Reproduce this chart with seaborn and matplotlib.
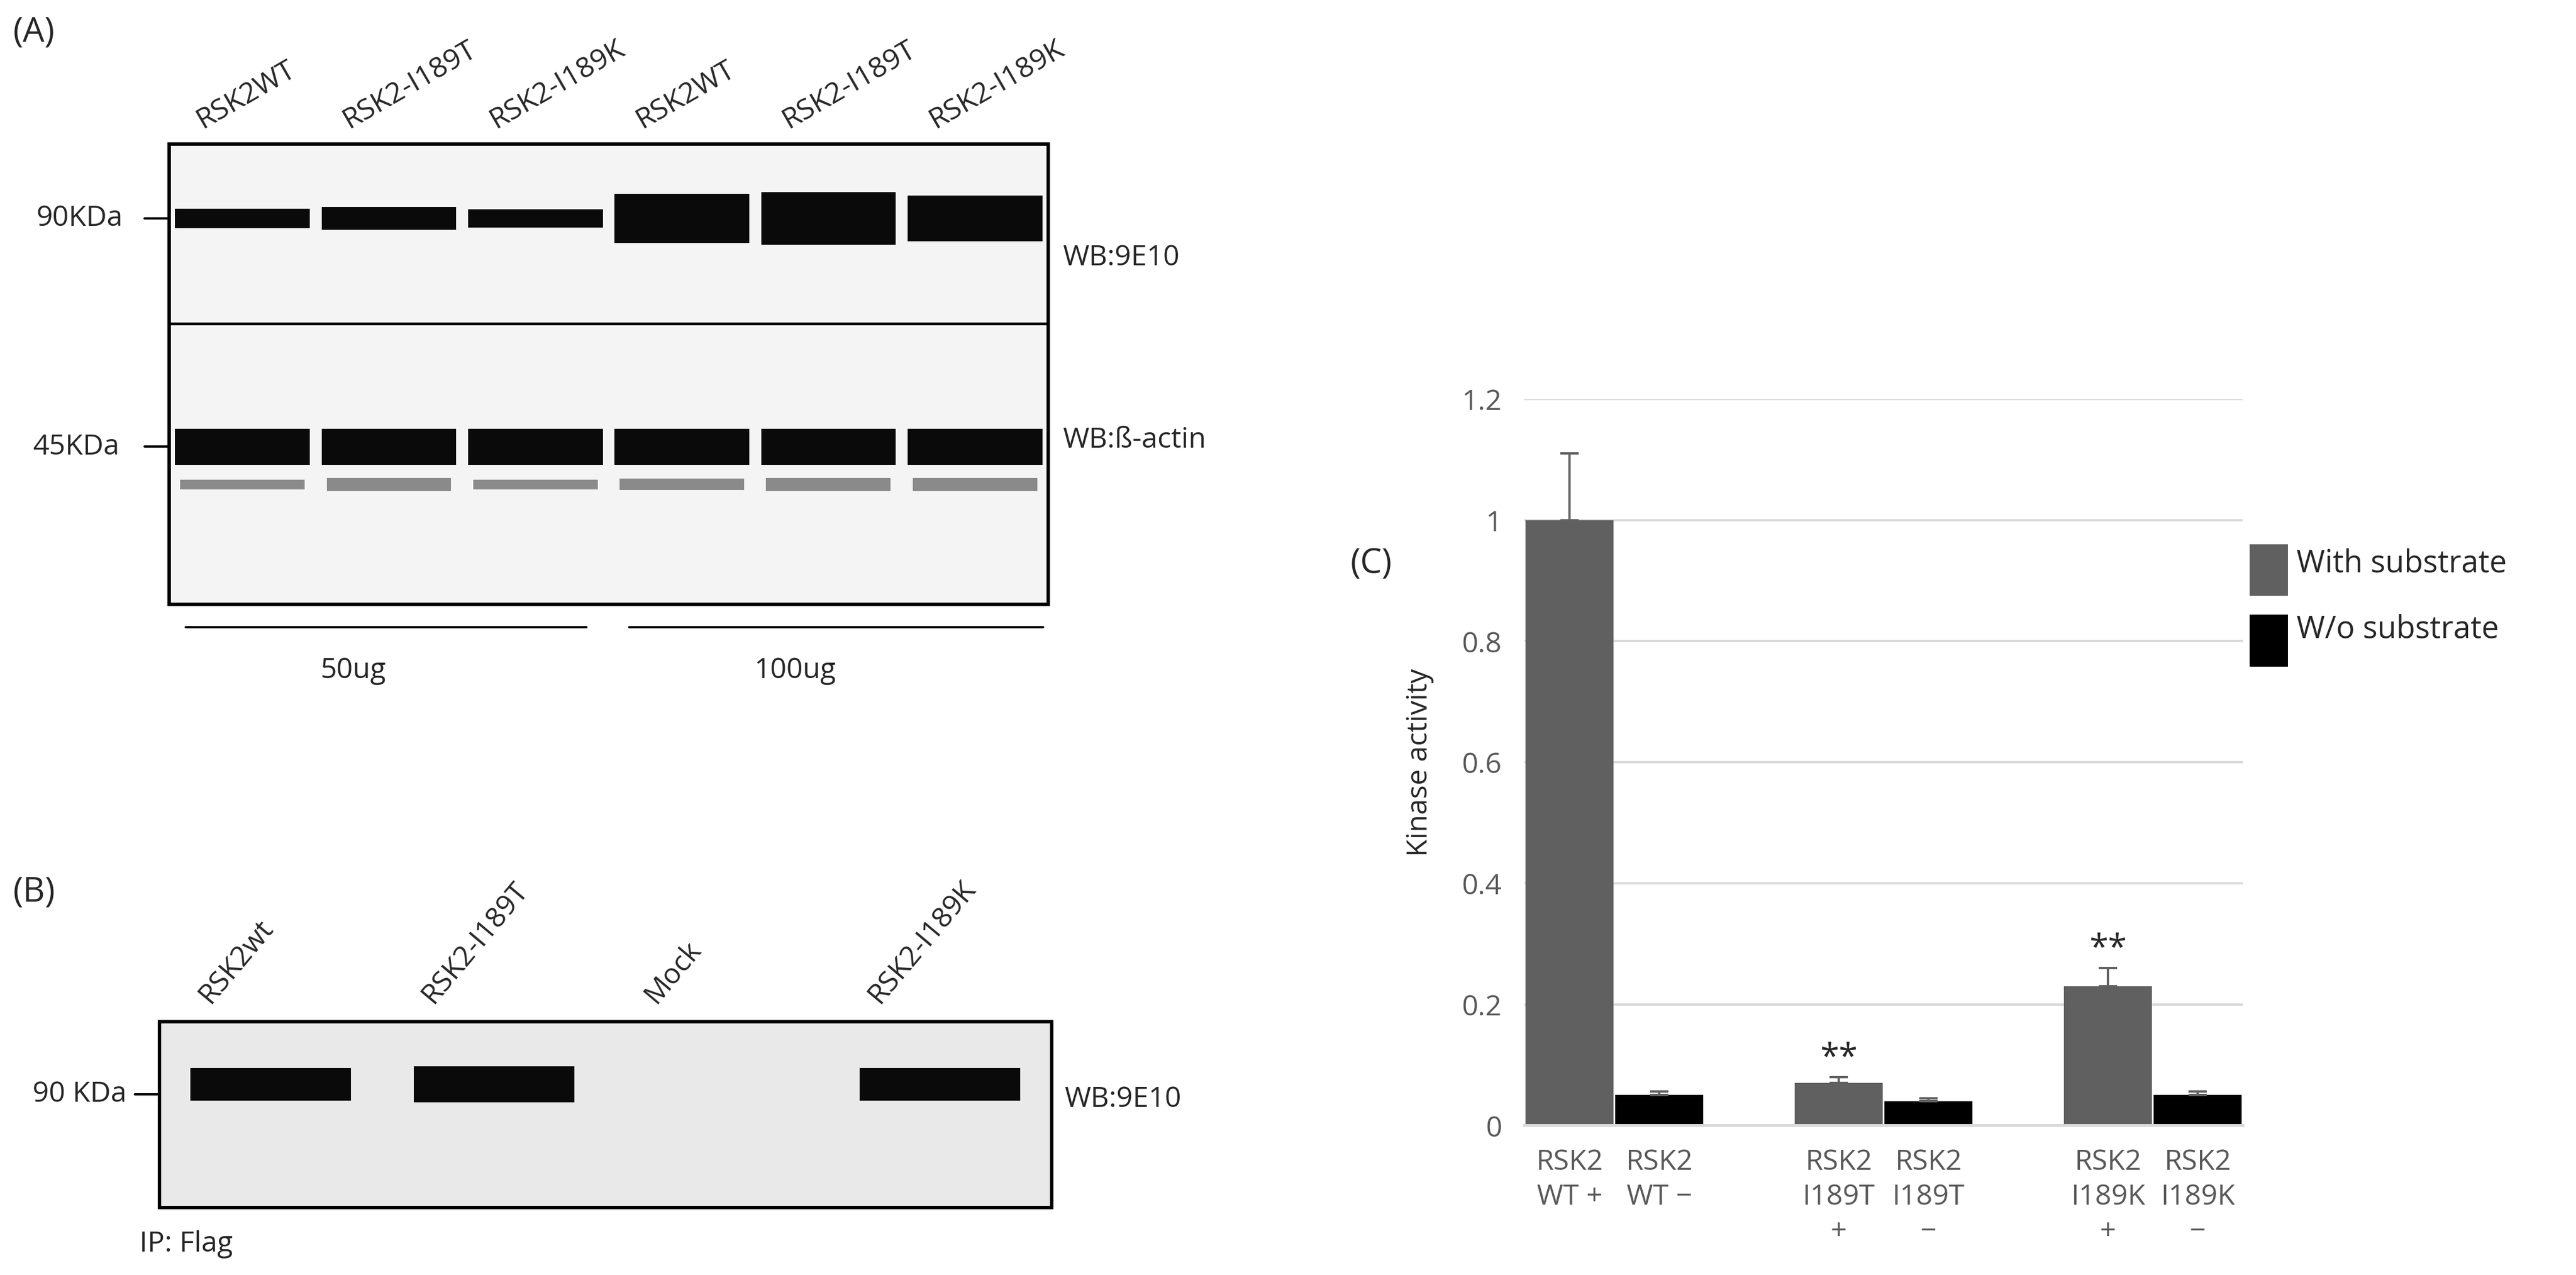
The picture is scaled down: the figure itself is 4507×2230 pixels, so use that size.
import matplotlib
matplotlib.use("Agg")
import matplotlib.pyplot as plt
import seaborn as sns
import pandas as pd
import numpy as np
from matplotlib.patches import Rectangle

sns.set_theme(style="white")
plt.rcParams['font.family'] = ['Open Sans', 'DejaVu Sans']

# ---- Data ----
blotA_lanes = ["RSK2WT", "RSK2-I189T", "RSK2-I189K", "RSK2WT", "RSK2-I189T", "RSK2-I189K"]
blotA_90_thick = [12, 14, 11, 30, 32, 28]      # band thickness (px units)
blotA_actin_thick = [22, 22, 22, 22, 22, 22]
blotA_actin_low = [6, 8, 6, 7, 8, 8]
blotB_lanes = ["RSK2wt", "RSK2-I189T", "Mock", "RSK2-I189K"]
blotB_thick = [20, 22, 0, 20]

categories = ["RSK2\nWT +", "RSK2\nWT \u2212", "sp1", "RSK2\nI189T\n+", "RSK2\nI189T\n\u2212",
              "sp2", "RSK2\nI189K\n+", "RSK2\nI189K\n\u2212"]
values = [1.0, 0.05, 0.0, 0.07, 0.04, 0.0, 0.23, 0.05]
errors = [0.11, 0.006, 0.0, 0.01, 0.005, 0.0, 0.03, 0.006]
substrate = ["With substrate", "W/o substrate", "With substrate", "With substrate", "W/o substrate",
             "With substrate", "With substrate", "W/o substrate"]
stars = ["", "", "", "**", "", "", "**", ""]

W, H = 1568, 776
fig = plt.figure(figsize=(15.68, 7.76), dpi=287.44)

def ax_px(x0, y0, x1, y1):
    return fig.add_axes([x0 / W, 1 - y1 / H, (x1 - x0) / W, (y1 - y0) / H])

def ftext(x, y, s, **kw):
    fig.text(x / W, 1 - y / H, s, **kw)

FS = 12.5

# ---- Panel A ----
axA = ax_px(103, 88, 638, 368)
axA.set_facecolor("#f4f4f4")
axA.set_xlim(-0.5, 5.5); axA.set_ylim(280, 0)
idx = np.arange(len(blotA_lanes))
axA.bar(idx, blotA_90_thick, bottom=[45 - t / 2 for t in blotA_90_thick], width=0.92,
        color="#0a0a0a", linewidth=0)
axA.bar(idx, blotA_actin_thick, bottom=[184 - t / 2 for t in blotA_actin_thick], width=0.92,
        color="#0a0a0a", linewidth=0)
axA.bar(idx, blotA_actin_low, bottom=[207 - t / 2 for t in blotA_actin_low], width=0.85,
        color="#8a8a8a", linewidth=0)
axA.axhline(109, color="black", lw=1.2)
axA.set_xticks([]); axA.set_yticks([])
for s in axA.spines.values():
    s.set_color("black"); s.set_linewidth(1.5)
for i, lab in enumerate(blotA_lanes):
    axA.text(i - 0.25, -6, lab, rotation=30, ha="left", va="bottom", fontsize=FS,
             rotation_mode="anchor")
ftext(8, 20, "(A)", fontsize=15, va="center")
ftext(22, 133, "90KDa", fontsize=FS, va="center")
ftext(20, 272, "45KDa", fontsize=FS, va="center")
fig.add_artist(plt.Line2D([88 / W, 103 / W], [1 - 133 / H] * 2, color="black", lw=1))
fig.add_artist(plt.Line2D([88 / W, 103 / W], [1 - 272 / H] * 2, color="black", lw=1))
ftext(647, 157, "WB:9E10", fontsize=FS, va="center")
ftext(647, 268, "WB:\u00df-actin", fontsize=FS, va="center")
fig.add_artist(plt.Line2D([113 / W, 357 / W], [1 - 382 / H] * 2, color="black", lw=1))
fig.add_artist(plt.Line2D([383 / W, 635 / W], [1 - 382 / H] * 2, color="black", lw=1))
ftext(215, 408, "50ug", fontsize=FS, ha="center", va="center")
ftext(484, 408, "100ug", fontsize=FS, ha="center", va="center")

# ---- Panel B ----
axB = ax_px(97, 622, 640, 735)
axB.set_facecolor("#e9e9e9")
axB.set_xlim(-0.5, 3.5); axB.set_ylim(113, 0)
idxB = np.arange(len(blotB_lanes))
axB.bar(idxB, blotB_thick, bottom=[38 - t / 2 for t in blotB_thick], width=0.72,
        color="#0a0a0a", linewidth=0)
axB.set_xticks([]); axB.set_yticks([])
for s in axB.spines.values():
    s.set_color("black"); s.set_linewidth(1.5)
for i, lab in enumerate(blotB_lanes):
    axB.text(i - 0.25, -8, lab, rotation=50, ha="left", va="bottom", fontsize=FS,
             rotation_mode="anchor")
ftext(8, 543, "(B)", fontsize=15, va="center")
ftext(20, 666, "90 KDa", fontsize=FS, va="center")
fig.add_artist(plt.Line2D([82 / W, 97 / W], [1 - 666 / H] * 2, color="black", lw=1))
ftext(648, 669, "WB:9E10", fontsize=FS, va="center")
ftext(85, 757, "IP: Flag", fontsize=FS, va="center")

# ---- Panel C ----
axC = ax_px(928, 243, 1365, 685)
df = pd.DataFrame({"cat": categories, "val": values, "Substrate": substrate})
sns.barplot(data=df, x="cat", y="val", hue="Substrate", order=categories,
            palette={"With substrate": "#606060", "W/o substrate": "#000000"},
            dodge=False, width=0.98, ax=axC, legend=False, linewidth=0)
pos = np.arange(len(categories))
mask = np.array(values) > 0
axC.errorbar(pos[mask], np.array(values)[mask], yerr=[np.zeros(mask.sum()), np.array(errors)[mask]],
             fmt="none", ecolor="#606060", elinewidth=1, capsize=4)
for p, v, e, s in zip(pos, values, errors, stars):
    if s:
        axC.text(p, v + e + 0.003, s, ha="center", va="bottom", fontsize=15)
axC.set_ylim(0, 1.2)
axC.set_xlim(-0.5, len(categories) - 0.5)
axC.set_yticks([0, 0.2, 0.4, 0.6, 0.8, 1.0, 1.2])
axC.set_yticklabels(["0", "0.2", "0.4", "0.6", "0.8", "1", "1.2"], fontsize=FS, color="#595959")
axC.yaxis.grid(True, color="#d9d9d9", lw=1)
axC.set_axisbelow(True)
axC.set_xticks(pos)
axC.set_xticklabels([c if not c.startswith("sp") else "" for c in categories],
                    fontsize=FS, color="#595959", va="top", linespacing=1.3)
axC.tick_params(axis="both", length=0, pad=10)
axC.set_xlabel("")
axC.set_ylabel("Kinase activity", fontsize=FS, labelpad=12)
for k in ["top", "right", "left"]:
    axC.spines[k].set_visible(False)
axC.spines["bottom"].set_color("#d9d9d9")
ftext(822, 343, "(C)", fontsize=15, va="center")
fig.add_artist(Rectangle((1370 / W, 1 - 362 / H), 22 / W, 30 / H, color="#606060"))
fig.add_artist(Rectangle((1370 / W, 1 - 405 / H), 22 / W, 30 / H, color="#000000"))
ftext(1398, 343, "With substrate", fontsize=13.5, va="center")
ftext(1398, 383, "W/o substrate", fontsize=13.5, va="center")

fig.savefig("out.png", dpi=287.44, facecolor="white")
